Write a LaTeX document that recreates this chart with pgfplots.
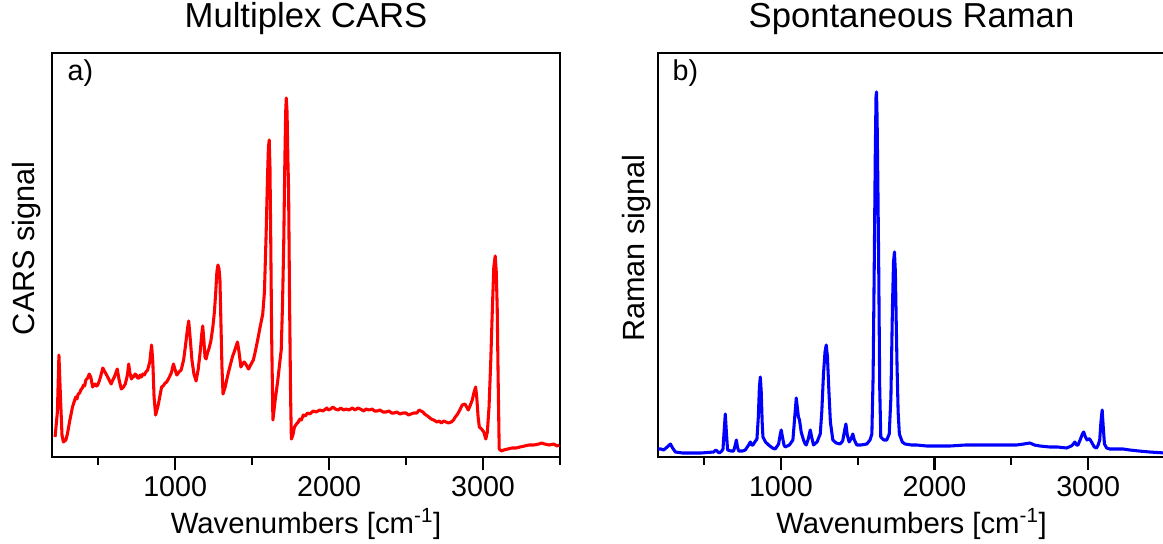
\documentclass[border=0pt]{standalone}
\usepackage{pgfplots}
\pgfplotsset{compat=1.18}
\usepackage{fontspec}
\setmainfont{Liberation Sans}

\pgfplotsset{
 myaxis/.style={
  scale only axis, height=303pt,
  xmin=200, xmax=3500, ymin=0, ymax=404,
  xtick={1000,2000,3000}, minor xtick={500,1500,2500,3500},
  ytick=\empty,
  xtick pos=bottom, tick align=outside,
  major tick length=9.75pt, minor tick length=6pt,
  every tick/.append style={black, line width=1.6pt},
  axis line style={line width=2.2pt, line cap=rect},
  scaled x ticks=false,
  /pgf/number format/1000 sep={},
  /pgf/number format/assume math mode=true,
  tick label style={font=\fontsize{21.5}{25}\selectfont},
  xticklabel style={yshift=-1.5pt},
  title style={at={(axis description cs:0.5,1)}, anchor=base, yshift=13.3pt, font=\fontsize{26}{31}\selectfont},
  xlabel style={at={(axis description cs:0.5,0)}, anchor=base, yshift=-57pt, font=\fontsize{22}{26}\selectfont},
  ylabel style={anchor=base, font=\fontsize{23}{27}\selectfont},
  xlabel={Wavenumbers [cm\textsuperscript{-1}]},
  every axis plot/.append style={line width=2.3pt, line join=round},
 }
}

\begin{document}
\begin{tikzpicture}
\useasboundingbox (-39pt,-64.5pt) rectangle (833.25pt,342.75pt);
\begin{axis}[myaxis, width=381pt, at={(0pt,0pt)}, anchor=south west,
  title={Multiplex CARS}, ylabel={CARS signal},
  ylabel style={at={(axis description cs:-0.0335,0.517)}}]
\addplot[color={rgb,255:red,255;green,0;blue,0}] coordinates {
(220,20) (235,45) (245,102) (255,60) (265,22) (274,15) (290,17) (300,23) (315,36) (333,50) (354,60) (362,58) (370,63) (380,64) (387,67) (397,69) (405,72) (412,71) (420,77) (432,79) (442,83) (452,80) (464,70) (472,72) (480,73) (489,71) (497,72) (507,76) (515,80) (530,89) (540,86) (551,83) (565,79) (584,73) (595,77) (605,80) (624,88) (636,77) (650,68) (665,70) (676,73) (690,82) (698,93) (706,84) (716,78) (724,81) (730,80) (740,83) (748,82) (756,79) (765,79) (773,82) (781,80) (790,83) (800,82) (810,85) (821,87) (835,95) (847,112) (855,95) (863,60) (873,42) (890,52) (912,70) (922,71) (935,74) (945,75) (956,78) (975,84) (989,93) (998,88) (1011,82) (1025,85) (1039,87) (1055,97) (1066,110) (1080,128) (1088,136) (1097,120) (1109,97) (1122,83) (1136,76) (1150,88) (1164,107) (1172,122) (1179,131) (1186,118) (1194,100) (1201,98) (1210,104) (1219,108) (1232,116) (1245,130) (1255,145) (1263,163) (1271,185) (1278,192) (1285,188) (1291,177) (1298,130) (1304,90) (1311,63) (1325,70) (1339,80) (1355,90) (1372,100) (1390,108) (1405,115) (1415,105) (1427,90) (1438,93) (1449,95) (1462,92) (1477,88) (1490,92) (1508,97) (1520,105) (1536,117) (1552,130) (1569,143) (1580,165) (1591,223) (1600,280) (1606,310) (1611,317) (1616,290) (1621,217) (1627,120) (1635,37) (1650,57) (1667,77) (1680,95) (1689,107) (1697,150) (1705,210) (1712,290) (1718,345) (1722,359) (1727,345) (1732,300) (1737,267) (1743,160) (1750,60) (1755,18) (1765,22) (1775,30) (1788,33) (1800,35) (1810,38) (1820,37) (1832,42) (1845,41) (1860,44) (1875,43) (1897,46) (1915,45) (1940,47) (1960,46) (1985,49) (1995,47) (2010,48) (2025,50) (2040,48) (2060,47) (2075,49) (2094,47) (2110,48) (2130,47) (2150,49) (2170,47) (2185,49) (2203,48) (2225,46) (2240,48) (2260,47) (2280,48) (2295,46) (2313,46) (2330,47) (2350,45) (2370,45) (2390,46) (2405,44) (2422,44) (2440,45) (2460,43) (2480,44) (2500,44) (2515,42) (2532,43) (2550,44) (2570,44) (2585,47) (2597,46) (2610,45) (2620,43) (2640,41) (2663,38) (2680,37) (2700,35) (2715,36) (2729,34) (2745,36) (2760,35) (2775,34) (2794,35) (2808,37) (2820,40) (2835,43) (2849,47) (2865,52) (2882,53) (2894,50) (2904,47) (2918,52) (2930,57) (2942,65) (2952,70) (2960,58) (2968,40) (2976,30) (2990,28) (3005,25) (3018,18) (3028,25) (3039,50) (3050,95) (3061,150) (3070,190) (3079,201) (3086,185) (3092,150) (3098,80) (3105,8) (3120,6) (3134,7) (3160,8) (3188,9) (3215,9) (3240,10) (3270,11) (3298,12) (3330,12) (3363,13) (3380,14) (3400,13) (3429,12) (3460,13) (3480,11) (3495,12)
};
\node[anchor=base west, font=\fontsize{21.5}{25}\selectfont] at (axis description cs:0.0217,0.933) {a)};
\end{axis}
\begin{axis}[myaxis, width=380.25pt, at={(454.5pt,0pt)}, anchor=south west,
  title={Spontaneous Raman}, ylabel={Raman signal},
  ylabel style={at={(axis description cs:-0.0276,0.517)}}]
\addplot[color={rgb,255:red,0;green,0;blue,255}] coordinates {
(200,8) (220,8) (237,7) (260,10) (281,13) (295,9) (313,5) (360,4) (411,4) (480,4) (562,5) (577,7) (590,5) (599,4) (615,6) (623,8) (630,25) (638,43) (645,25) (653,7) (675,6) (692,6) (703,12) (710,17) (717,10) (725,6) (750,6) (768,7) (790,12) (801,15) (810,12) (818,12) (830,15) (844,18) (853,40) (860,70) (866,80) (872,65) (878,35) (883,20) (900,15) (920,12) (945,9) (963,8) (985,13) (995,22) (1002,27) (1010,20) (1020,12) (1028,10) (1055,12) (1078,17) (1090,40) (1100,59) (1108,48) (1114,40) (1121,37) (1132,25) (1147,17) (1158,13) (1165,12) (1178,18) (1191,27) (1200,20) (1212,12) (1235,15) (1256,23) (1266,45) (1277,83) (1287,105) (1295,112) (1303,100) (1312,67) (1322,35) (1338,17) (1360,14) (1385,13) (1402,16) (1415,27) (1423,33) (1432,22) (1444,15) (1456,18) (1468,23) (1478,17) (1494,12) (1520,12) (1559,13) (1580,17) (1592,23) (1600,80) (1607,183) (1614,300) (1619,360) (1622,365) (1626,340) (1632,260) (1637,183) (1643,70) (1650,20) (1670,17) (1689,17) (1705,23) (1716,60) (1726,150) (1733,195) (1739,205) (1745,185) (1750,140) (1756,90) (1763,45) (1771,23) (1790,15) (1808,13) (1850,12) (1884,12) (1950,11) (2000,11) (2101,11) (2200,12) (2317,12) (2400,12) (2534,12) (2580,13) (2621,14) (2650,12) (2686,11) (2750,10) (2800,10) (2859,9) (2890,11) (2898,12) (2913,15) (2925,12) (2934,12) (2950,18) (2962,23) (2971,25) (2982,20) (2993,17) (3002,18) (3010,18) (3025,14) (3040,10) (3054,9) (3065,12) (3075,17) (3083,35) (3091,47) (3098,30) (3106,13) (3120,9) (3140,8) (3180,8) (3227,8) (3270,7) (3330,6) (3400,5) (3450,4.5) (3500,4)
};
\node[anchor=base west, font=\fontsize{21.5}{25}\selectfont] at (axis description cs:0.0197,0.933) {b)};
\end{axis}
\end{tikzpicture}
\end{document}
